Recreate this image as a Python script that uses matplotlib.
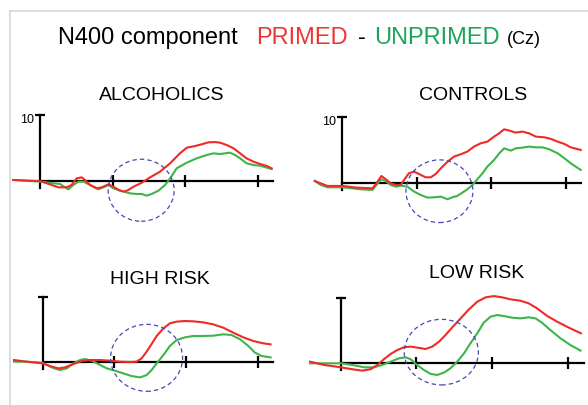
import matplotlib.pyplot as plt
from matplotlib.patches import Ellipse
from matplotlib.lines import Line2D

# ---- data: time in ms, amplitude in uV ----
alc_red_t = [-74, 0, 51, 74, 87, 101, 115, 124, 138, 156, 170, 189, 202, 221, 232, 244, 258, 281, 304, 331,
             359, 386, 405, 428, 446, 465, 483, 497, 515, 534, 552, 570, 589, 607, 626, 639]
alc_red_v = [0.15, 0.0, -0.96, -0.96, -0.6, 0.4, 0.56, 0.15, -0.6, -1.1, -0.96, -0.5, -0.86, -1.46, -1.6, -1.36,
             -0.86, -0.25, 0.56, 1.41, 2.68, 4.19, 5.05, 5.3, 5.56, 5.86, 5.9, 5.8, 5.45, 4.95, 4.19, 3.43, 2.93,
             2.58, 2.27, 1.92]
alc_grn_t = [-74, 0, 55, 78, 92, 106, 120, 138, 161, 175, 189, 202, 221, 248, 267, 281, 294, 308, 327, 345,
             359, 377, 405, 432, 460, 478, 497, 524, 538, 552, 570, 589, 607, 626, 639]
alc_grn_v = [0.15, -0.1, -0.45, -1.26, -0.6, -0.1, -0.1, -0.6, -1.26, -0.96, -0.6, -1.1, -1.46, -1.87, -1.97,
             -1.97, -2.22, -1.97, -1.46, -0.6, 0.4, 1.92, 2.78, 3.43, 3.94, 4.19, 4.09, 4.29, 3.94, 3.43, 2.68,
             2.42, 2.32, 2.02, 1.82]

con_red_t = [-74, -40, 0, 40, 81, 92, 105, 117, 130, 144, 157, 166, 179, 193, 206, 224, 238, 251, 265, 283,
             300, 318, 336, 354, 372, 390, 408, 422, 435, 449, 466, 484, 502, 520, 543, 561, 579, 597, 614, 641]
con_red_v = [0.35, -0.4, -0.4, -0.66, -0.76, 0.0, 1.11, 0.61, 0.0, -0.25, -0.25, 0.51, 1.52, 1.77, 1.41, 0.91,
             0.91, 1.41, 2.27, 3.28, 4.04, 4.39, 4.8, 5.56, 6.06, 6.31, 7.07, 7.58, 8.18, 7.98, 7.68, 7.83, 7.58,
             7.07, 6.97, 6.72, 6.31, 5.96, 5.45, 5.05]
con_grn_t = [-74, -58, -40, 0, 27, 49, 81, 94, 105, 117, 130, 144, 157, 175, 193, 211, 229, 247, 265, 283,
             296, 309, 323, 336, 350, 363, 377, 390, 408, 422, 435, 453, 466, 484, 502, 520, 538, 556, 579, 597,
             614, 641]
con_grn_v = [0.35, -0.25, -0.61, -0.61, -0.76, -0.91, -1.01, -0.1, 0.61, 0.35, -0.25, -0.51, -0.35, -0.51,
             -1.26, -1.77, -2.17, -2.12, -2.02, -2.42, -2.12, -1.92, -1.41, -0.91, -0.25, 0.61, 1.52, 2.53, 3.54,
             4.55, 5.3, 4.95, 5.3, 5.4, 5.56, 5.45, 5.45, 5.15, 4.55, 3.79, 3.03, 2.02]

hr_red_t = [-80, -45, 0, 20, 44, 62, 86, 109, 132, 160, 188, 216, 244, 262, 276, 290, 304, 318, 337, 355, 374,
            397, 420, 448, 476, 504, 532, 560, 588, 616, 636]
hr_red_v = [0.26, 0.0, -0.26, -0.67, -1.04, -0.88, -0.36, 0.1, 0.26, 0.26, 0.16, 0.0, -0.05, 0.0, 0.52, 1.55,
            2.75, 3.99, 5.18, 5.96, 6.22, 6.32, 6.27, 6.11, 5.8, 5.28, 4.51, 3.78, 3.21, 2.85, 2.69]
hr_grn_t = [-80, -45, 0, 25, 48, 67, 86, 104, 118, 137, 155, 179, 202, 225, 248, 272, 290, 304, 318, 337, 355,
            374, 397, 420, 448, 476, 504, 527, 551, 574, 592, 611, 636]
hr_grn_v = [0.0, 0.0, -0.16, -0.88, -1.3, -1.04, -0.26, 0.26, 0.41, 0.16, -0.36, -1.04, -1.4, -1.81, -2.23,
            -2.44, -2.07, -1.3, -0.26, 1.04, 2.44, 3.37, 3.78, 3.99, 3.99, 4.04, 4.25, 4.15, 3.47, 2.44, 1.42,
            0.88, 0.67]

lr_red_t = [-81, -44, 0, 31, 57, 79, 97, 114, 132, 150, 167, 185, 202, 224, 242, 260, 277, 295, 317, 339, 361,
            383, 405, 427, 449, 475, 497, 519, 546, 572, 598, 620, 635]
lr_red_v = [0.25, -0.25, -0.61, -0.91, -1.12, -0.91, -0.25, 0.61, 1.42, 2.03, 2.44, 2.54, 2.39, 2.18, 2.54, 3.3,
            4.31, 5.48, 6.85, 8.22, 9.39, 10.05, 10.25, 10.05, 9.75, 9.54, 9.14, 8.38, 7.21, 6.35, 5.58, 4.97,
            4.57]
lr_grn_t = [-81, -44, 0, 31, 62, 88, 110, 132, 154, 172, 185, 202, 220, 238, 255, 273, 290, 308, 326, 343, 361,
            378, 396, 414, 431, 453, 475, 497, 515, 532, 554, 581, 607, 634]
lr_grn_v = [0.0, 0.0, 0.0, -0.25, -0.61, -0.61, -0.25, 0.25, 0.76, 0.91, 0.61, -0.25, -1.02, -1.62, -1.78,
            -1.42, -0.76, 0.25, 1.52, 3.05, 4.57, 6.19, 7.11, 7.36, 7.21, 6.95, 6.85, 7.01, 6.85, 6.19, 5.08,
            3.81, 2.79, 1.93]

groups = ["ALCOHOLICS", "CONTROLS", "HIGH RISK", "LOW RISK"]
tick_ms = [200, 400, 600]
t_end = 642
y_top = 10

RED = "#ee2b26"
GREEN = "#3db54a"
BLUE = "#4747b5"

W, H = 588, 405
plt.rcParams['font.family'] = ['Liberation Sans', 'DejaVu Sans']
fig = plt.figure(figsize=(W / 100, H / 100), dpi=100)


def fx(x):
    return x / W


def fy(y):
    return 1 - y / H


def panel(origin, px_ms, px_uv, red, grn, circ, show10):
    x0, y0 = origin
    left, right, top, bottom = x0 - 40, x0 + 250, y0 - 80, y0 + 55
    ax = fig.add_axes([fx(left), fy(bottom), (right - left) / W, (bottom - top) / H])
    ax.set_xlim((left - x0) / px_ms, (right - x0) / px_ms)
    ax.set_ylim((y0 - bottom) / px_uv, (y0 - top) / px_uv)
    ax.axis('off')
    # axes drawn by hand, like the original figure
    ax.plot([0, t_end], [0, 0], color='black', lw=1.6, zorder=1)
    ax.plot([0, 0], [-7 / px_uv, y_top], color='black', lw=1.6, zorder=1)
    ax.plot([0], [y_top], marker='_', ms=7.5, mew=1.6, color='black', zorder=1)
    ax.plot(tick_ms, [0] * len(tick_ms), '|', ms=8.5, mew=1.6, color='black', zorder=1)
    ax.plot(grn[0], grn[1], color=GREEN, lw=1.5, zorder=2, solid_joinstyle='round')
    ax.plot(red[0], red[1], color=RED, lw=1.5, zorder=3, solid_joinstyle='round')
    ax.add_patch(Ellipse((circ[0], circ[1]), circ[2], circ[3], fill=False, edgecolor=BLUE,
                         lw=0.9, ls=(0, (3.5, 2.5)), zorder=4))
    if show10:
        fig.text(fx(x0 - 6), fy(y0 - y_top * px_uv + 8), "10", fontsize=9,
                 ha='right', va='baseline')
    return ax


panel((40, 181), 0.3625, 6.6, (alc_red_t, alc_red_v), (alc_grn_t, alc_grn_v), (279, -1.4, 182, 9.4), True)
panel((342.3, 183.3), 0.372, 6.6, (con_red_t, con_red_v), (con_grn_t, con_grn_v), (261, -1.2, 180, 9.5), True)
panel((42.7, 361.7), 0.3583, 6.44, (hr_red_t, hr_red_v), (hr_grn_t, hr_grn_v), (290, 0.6, 201, 10.4), False)
panel((340.7, 363.3), 0.3783, 6.56, (lr_red_t, lr_red_v), (lr_grn_t, lr_grn_v), (266, 1.7, 196, 10.0), False)

# group labels
fig.text(fx(162), fy(100), groups[0], fontsize=14, ha='center', va='baseline')
fig.text(fx(473), fy(100), groups[1], fontsize=14, ha='center', va='baseline')
fig.text(fx(160), fy(283.5), groups[2], fontsize=14, ha='center', va='baseline')
fig.text(fx(477), fy(278.5), groups[3], fontsize=14, ha='center', va='baseline')

# heading in pieces
fig.text(fx(238), fy(44), "N400 component", fontsize=17, ha='right', va='baseline')
fig.text(fx(256), fy(44), "PRIMED", fontsize=17, color="#ee3535", va='baseline')
fig.text(fx(362), fy(44), "-", fontsize=17, ha='center', va='baseline')
fig.text(fx(374), fy(44), "UNPRIMED", fontsize=17, color="#1ba55a", va='baseline')
fig.text(fx(507), fy(44), "(Cz)", fontsize=13, va='baseline')

# light frame
fig.add_artist(Line2D([fx(9.5), fx(9.5)], [fy(11), 0], color='#d3d7db', lw=1.2))
fig.add_artist(Line2D([fx(9.5), 1], [fy(11), fy(11)], color='#d3d7db', lw=1.2))

fig.savefig("out.png", dpi=100)
